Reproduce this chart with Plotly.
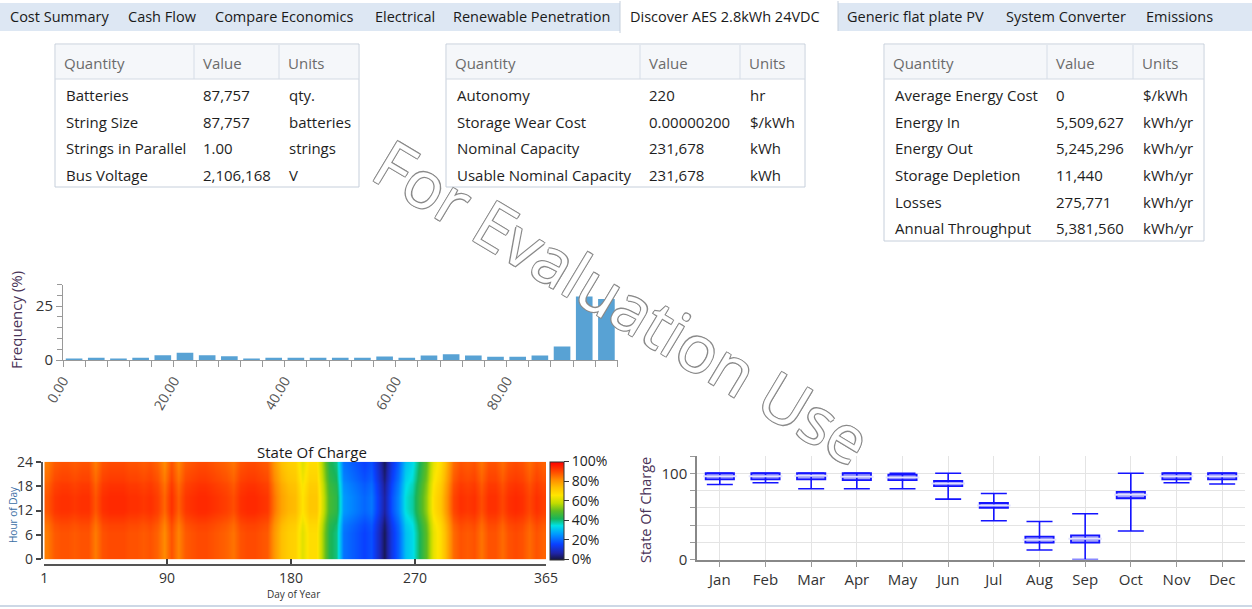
import plotly.graph_objects as go

# ---------------- data ----------------
tab_labels = ["Cost Summary", "Cash Flow", "Compare Economics", "Electrical",
              "Renewable Penetration", "Discover AES 2.8kWh 24VDC",
              "Generic flat plate PV", "System Converter", "Emissions"]
active_tab = "Discover AES 2.8kWh 24VDC"

table_header = ["Quantity", "Value", "Units"]

t1_quantity = ["Batteries", "String Size", "Strings in Parallel", "Bus Voltage"]
t1_value = ["87,757", "87,757", "1.00", "2,106,168"]
t1_units = ["qty.", "batteries", "strings", "V"]

t2_quantity = ["Autonomy", "Storage Wear Cost", "Nominal Capacity", "Usable Nominal Capacity"]
t2_value = ["220", "0.00000200", "231,678", "231,678"]
t2_units = ["hr", "$/kWh", "kWh", "kWh"]

t3_quantity = ["Average Energy Cost", "Energy In", "Energy Out", "Storage Depletion",
               "Losses", "Annual Throughput"]
t3_value = ["0", "5,509,627", "5,245,296", "11,440", "275,771", "5,381,560"]
t3_units = ["$/kWh", "kWh/yr", "kWh/yr", "kWh/yr", "kWh/yr", "kWh/yr"]

# histogram of state of charge (bins of 4 %)
hist_bin_start = [0, 4, 8, 12, 16, 20, 24, 28, 32, 36, 40, 44, 48,
                  52, 56, 60, 64, 68, 72, 76, 80, 84, 88, 92, 96]
hist_freq = [0.5, 1.1, 0.5, 1.1, 2.2, 3.4, 2.2, 1.7, 0.5, 1.1, 1.1, 1.1, 1.1,
             1.1, 1.6, 1.0, 2.1, 2.7, 2.1, 1.5, 1.5, 2.1, 6.3, 29.4, 28.3]
hist_tick_vals = [0, 20, 40, 60, 80]
hist_tick_text = ["0.00", "20.00", "40.00", "60.00", "80.00"]

# heat map: 5-day blocks (start day) and their state of charge (%)
day_block_start = [1, 6, 11, 16, 21, 26, 31, 36, 41, 46, 51, 56, 61, 66, 71, 76, 81, 86,
                   91, 96, 101, 106, 111, 116, 121, 126, 131, 136, 141, 146, 151, 156,
                   161, 166, 171, 176, 181, 186, 191, 196, 201, 206, 211, 216, 221, 226,
                   231, 236, 241, 246, 251, 256, 261, 266, 271, 276, 281, 286, 291, 296,
                   301, 306, 311, 316, 321, 326, 331, 336, 341, 346, 351, 356, 361]
day_block_soc = [86, 90, 91, 91, 90, 91, 91, 86, 91, 92, 92, 92, 91, 91, 90, 91, 89, 84,
                 91, 85, 90, 91, 92, 92, 91, 90, 89, 87, 91, 92, 92, 91, 90, 82, 76, 73,
                 72, 64, 70, 70, 58, 45, 42, 24, 22, 20, 18, 20, 12, 4, 15, 22, 33, 36,
                 44, 52, 65, 70, 78, 88, 91, 90, 91, 87, 91, 91, 88, 91, 92, 91, 88, 91, 89]
hour_of_day = [0, 1, 2, 3, 4, 5, 6, 7, 8, 9, 10, 11, 12, 13, 14, 15, 16, 17,
               18, 19, 20, 21, 22, 23]
hour_adjust = [-2, -2, -2, -2, -2, -2, -2, -1.5, -1, 0, 1, 2, 2.5, 2.5, 2.5, 2.5,
               2, 1.5, 1, 0, -0.5, -1, -1.5, -2]

# monthly box plot of state of charge
months = ["Jan", "Feb", "Mar", "Apr", "May", "Jun", "Jul", "Aug", "Sep", "Oct", "Nov", "Dec"]
soc_low = [87, 89, 82, 82, 82, 70, 45, 11, 0, 33, 89, 87.5]
soc_q1 = [93, 93, 93, 92, 92, 85, 60, 19.5, 19.5, 71, 93, 93]
soc_median = [96.5, 96.5, 97, 96, 95, 88, 62.5, 23, 24, 75, 96.5, 96.5]
soc_q3 = [100, 100, 100, 100, 98.5, 91, 65.5, 26.5, 28, 78.5, 100, 100]
soc_high = [100, 100, 100, 100, 100, 100, 76.5, 44, 53, 100, 100, 100]

# ---------------- layout helpers ----------------
W, H = 1252, 609
FONT = "Open Sans"


def px(x):
    return x / W


def py(y):
    return 1 - y / H


shapes = []
annotations = []


def rect(x0, y0, x1, y1, fill=None, line=None, lw=1):
    shapes.append(dict(type="rect", xref="paper", yref="paper",
                       x0=px(x0), x1=px(x1), y0=py(y1), y1=py(y0),
                       fillcolor=fill if fill else "rgba(0,0,0,0)",
                       line=dict(color=line if line else "rgba(0,0,0,0)", width=lw if line else 0),
                       layer="below"))


def hline(x0, x1, y, color, lw=1):
    shapes.append(dict(type="line", xref="paper", yref="paper",
                       x0=px(x0), x1=px(x1), y0=py(y), y1=py(y),
                       line=dict(color=color, width=lw), layer="below"))


def vline(x, y0, y1, color, lw=1):
    shapes.append(dict(type="line", xref="paper", yref="paper",
                       x0=px(x), x1=px(x), y0=py(y0), y1=py(y1),
                       line=dict(color=color, width=lw), layer="below"))


def text(x, y, s, size=15, color="#1e1e1e", xanchor="left", angle=0, **kw):
    annotations.append(dict(xref="paper", yref="paper", x=px(x), y=py(y), text=s,
                            showarrow=False, xanchor=xanchor, yanchor="middle",
                            textangle=angle,
                            font=dict(family=FONT, size=size, color=color, **kw)))


# ---- tab strip ----
tab_x = [8, 126, 213, 373, 451, 628, 845, 1004, 1144]
rect(0, 3, W, 31, fill="#dde7f3")
rect(620, 0, 838, 33, fill="#ffffff")
vline(620, 1, 33, "#c5cfdc")
vline(838, 1, 31, "#c5cfdc")
for lab, xx in zip(tab_labels, tab_x):
    text(xx, 17, lab, size=14.5, color="#1a1a1a")

# ---- tables ----
ROW0, ROWSTEP = 95, 26.67


def table(cols, bottom, q, v, u):
    top, hbot = 44, 79
    rect(cols[0], top, cols[3], bottom, fill="#ffffff", line="#c6cfdb")
    rect(cols[0] + 1, top + 1, cols[3] - 1, hbot, fill="#f5f7fa")
    hline(cols[0], cols[3], hbot, "#d3dae4")
    for c in cols[1:3]:
        vline(c, top + 1, hbot, "#d6dde7")
    for i, h in enumerate(table_header):
        text(cols[i] + 7, 62.5, h, size=15, color="#6b6b6b")
    for r in range(len(q)):
        yy = ROW0 + r * ROWSTEP
        text(cols[0] + 9, yy, q[r])
        text(cols[1] + 7, yy, v[r])
        text(cols[2] + 8, yy, u[r])


table([55, 194, 279, 359], 187, t1_quantity, t1_value, t1_units)
table([446, 640, 740, 805], 187, t2_quantity, t2_value, t2_units)
table([884, 1047, 1133, 1204], 241, t3_quantity, t3_value, t3_units)

# bottom separator
hline(0, W, 606, "#cdd8e6", 2)

# ---------------- traces ----------------
fig = go.Figure()

# histogram
fig.add_trace(go.Bar(
    x=[b + 2 for b in hist_bin_start], y=hist_freq, width=3,
    marker=dict(color="#58a2d4", line=dict(width=0)),
    xaxis="x", yaxis="y", showlegend=False, hoverinfo="skip"))

# heatmap
z = [[max(0, min(100, d + h)) for d in day_block_soc] for h in hour_adjust]
colorscale = [
    [0.0, "#15153a"], [0.07, "#1f24a8"], [0.16, "#0a40ff"], [0.26, "#0096ff"],
    [0.35, "#00e2e6"], [0.42, "#18b45a"], [0.5, "#5cbc22"], [0.58, "#c2dc00"],
    [0.66, "#ffe600"], [0.74, "#ffc000"], [0.82, "#ff8c00"], [0.9, "#ff4a00"],
    [1.0, "#ff0000"]]
fig.add_trace(go.Heatmap(
    x=[d + 2 for d in day_block_start], y=[h + 0.5 for h in hour_of_day], z=z,
    zmin=0, zmax=100, zsmooth="best", colorscale=colorscale,
    xaxis="x2", yaxis="y2", hoverinfo="skip",
    colorbar=dict(x=px(550), xanchor="left", xpad=0, y=py(510.5), yanchor="middle",
                  ypad=0, len=97.6, lenmode="pixels", thickness=14,
                  thicknessmode="pixels", outlinewidth=1, outlinecolor="#333",
                  tickvals=[0, 20, 40, 60, 80, 100],
                  ticktext=["0%", "20%", "40%", "60%", "80%", "100%"],
                  ticks="outside", ticklen=5, tickcolor="#333",
                  tickfont=dict(family=FONT, size=14, color="#222"))))

# whiskers with caps (under the boxes)
fig.add_trace(go.Scatter(
    x=months, y=soc_median, mode="markers", marker=dict(size=1, opacity=0),
    error_y=dict(type="data", symmetric=False,
                 array=[h - m for h, m in zip(soc_high, soc_median)],
                 arrayminus=[m - l for m, l in zip(soc_median, soc_low)],
                 width=13, thickness=1.6, color="#1414ff"),
    xaxis="x3", yaxis="y3", showlegend=False, hoverinfo="skip"))

fig.add_trace(go.Box(
    x=months, q1=soc_q1, median=soc_median, q3=soc_q3,
    lowerfence=soc_q1, upperfence=soc_q3, width=0.62,
    fillcolor="#a3a3f7", line=dict(color="#1414ff", width=1.8),
    xaxis="x3", yaxis="y3", showlegend=False, hoverinfo="skip"))

# light median marks on top
fig.add_trace(go.Scatter(
    x=months, y=soc_median, mode="markers",
    marker=dict(symbol="line-ew", size=24, line=dict(color="#e2e2ff", width=2)),
    xaxis="x3", yaxis="y4", showlegend=False, hoverinfo="skip"))

# ---------------- axes ----------------
axis_font = dict(family=FONT, size=14, color="#333")

fig.update_layout(
    width=W, height=H, autosize=False,
    margin=dict(l=0, r=0, t=0, b=0, pad=0, autoexpand=False),
    paper_bgcolor="white", plot_bgcolor="white",
    showlegend=False,
    xaxis=dict(domain=[px(63), px(617.5)], range=[0, 100], anchor="y", automargin=False,
               tickmode="array", tickvals=hist_tick_vals, ticktext=hist_tick_text,
               tickangle=-60, ticks="outside", ticklen=6, tickcolor="#999",
               showline=True, linecolor="#999", linewidth=1, showgrid=False,
               zeroline=False, tickfont=dict(family=FONT, size=14, color="#555"),
               minor=dict(dtick=4, tick0=0, ticks="outside", ticklen=6,
                          tickcolor="#999", showgrid=False)),
    yaxis=dict(domain=[py(360), py(284.5)], range=[0, 35], anchor="x", automargin=False,
               tickmode="array", tickvals=[0, 25], ticks="outside", ticklen=6,
               tickcolor="#999", showline=True, linecolor="#999", showgrid=False,
               zeroline=False, tickfont=dict(family=FONT, size=15, color="#333"),
               minor=dict(dtick=5, tick0=0, ticks="outside", ticklen=5,
                          tickcolor="#999", showgrid=False)),
    xaxis2=dict(domain=[px(44.3), px(546)], range=[1, 365], anchor="free", automargin=False,
                position=py(565), tickmode="array", tickvals=[1, 90, 180, 270, 365],
                ticks="inside", ticklen=5, tickwidth=2, tickcolor="#444",
                showline=True, linecolor="#555", linewidth=2, showgrid=False,
                zeroline=False, tickfont=axis_font),
    yaxis2=dict(domain=[py(559.3), py(461.7)], range=[0, 24], anchor="free", automargin=False,
                position=px(41.7), tickmode="array", tickvals=[0, 6, 12, 18, 24],
                ticks="outside", ticklen=5, tickwidth=2, tickcolor="#444",
                showline=True, linecolor="#555", linewidth=2, showgrid=False,
                zeroline=False, tickfont=axis_font),
    xaxis3=dict(domain=[px(697), px(1245)], type="category", automargin=False,
                categoryorder="array", categoryarray=months,
                range=[-0.5, 11.5], anchor="y3", ticks="outside", ticklen=6,
                tickcolor="#999", showline=True, linecolor="#888", linewidth=1.5,
                showgrid=True, gridcolor="#e4e4e4", zeroline=False,
                tickfont=dict(family=FONT, size=15, color="#333")),
    yaxis3=dict(domain=[py(559.5), py(456)], range=[0, 120], anchor="x3", automargin=False,
                tickmode="array", tickvals=[0, 20, 40, 60, 80, 100, 120],
                ticktext=["0", "", "", "", "", "100", ""],
                ticks="outside", ticklen=5, tickcolor="#999",
                showline=True, linecolor="#888", linewidth=1.5, showgrid=True,
                gridcolor="#e4e4e4", zeroline=False,
                tickfont=dict(family=FONT, size=15, color="#333")),
    yaxis4=dict(overlaying="y3", range=[0, 120], anchor="x3", visible=False,
                automargin=False),
    shapes=shapes,
)

# axis titles and chart title
text(16, 320, "Frequency (%)", size=15, color="#4a3358", xanchor="center", angle=-90)
text(312, 452, "State Of Charge", size=15, color="#1a1a1a", xanchor="center")
text(13, 515, "Hour of Day", size=10, color="#3a6ea5", xanchor="center", angle=-90)
text(293, 594, "Day of Year", size=10, color="#333", xanchor="center")
text(645, 510, "State Of Charge", size=14.5, color="#4a3358", xanchor="center", angle=-90)

# watermark
annotations.append(dict(
    xref="paper", yref="paper", x=px(622), y=py(301), text="For Evaluation Use",
    showarrow=False, xanchor="center", yanchor="middle", textangle=31,
    font=dict(family=FONT, size=65, color="white",
              shadow="-1px -1px 0 #8a8a8a, 1px -1px 0 #8a8a8a, -1px 1px 0 #8a8a8a, 1px 1px 0 #8a8a8a")))

fig.update_layout(annotations=annotations)

fig.write_html("out.html", config={"displayModeBar": False},
               post_script="document.body.style.margin='0';document.body.style.overflow='hidden';")
